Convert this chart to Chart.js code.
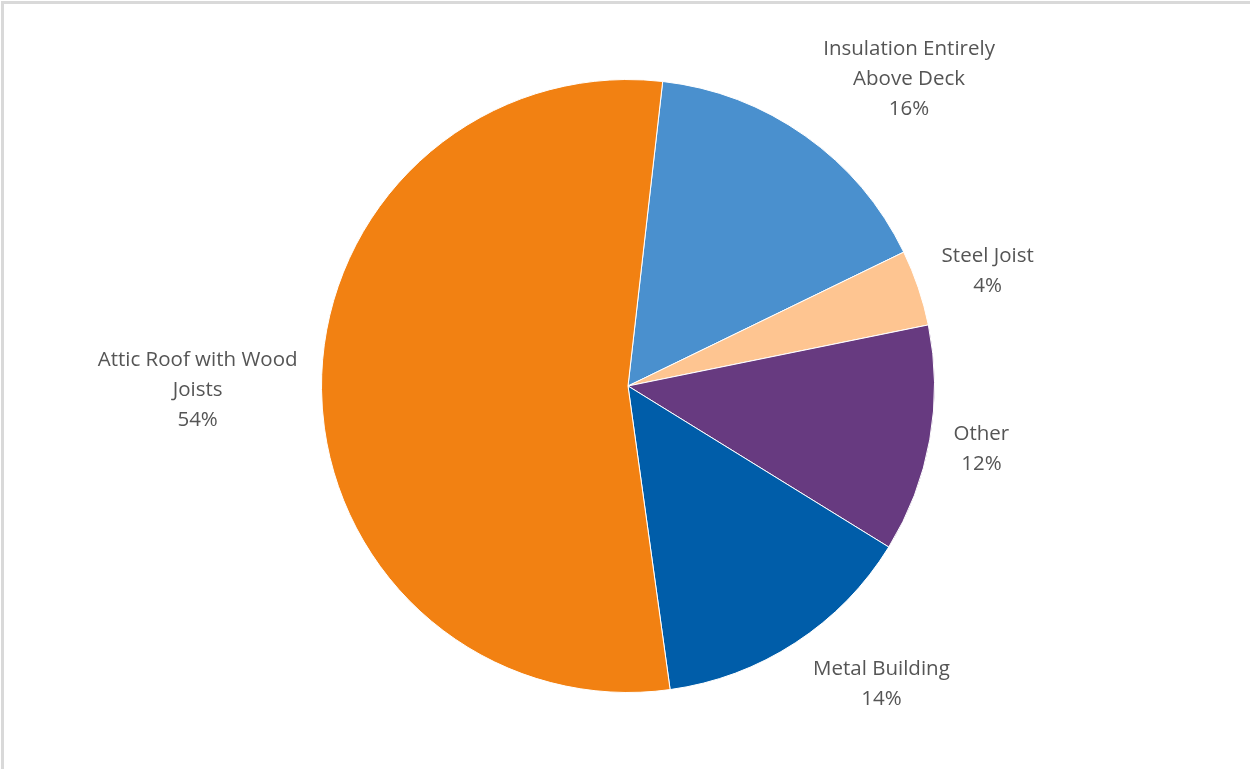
<!DOCTYPE html>
<html>
<head>
<meta charset="utf-8">
<title>Roof construction types</title>
<script src="https://cdn.jsdelivr.net/npm/chart.js@4"></script>
<style>
    html, body { margin: 0; padding: 0; background: #fff; }
    #wrap { position: relative; width: 1250px; height: 769px; }
    #frame {
        position: absolute; left: 1px; top: 1px; right: 0; bottom: 0;
        border-top: 3px solid #d9d9d9; border-left: 3px solid #d9d9d9;
        pointer-events: none;
    }
</style>
</head>
<body>
<div id="wrap">
    <canvas id="roofChart" width="1250" height="769"></canvas>
    <div id="frame"></div>
</div>
<script>
// roof types, clockwise from the top
const categories = [
    ['Insulation Entirely', 'Above Deck'],
    ['Steel Joist'],
    ['Other'],
    ['Metal Building'],
    ['Attic Roof with Wood', 'Joists']
];
const shares = [16, 4, 12, 14, 54];
const sliceColors = ['#4A90CE', '#FEC591', '#673A80', '#005DA9', '#F28112'];

const LABEL_FONT = '20.5px "Segoe UI", "Open Sans", sans-serif';
const LINE_H = 30;

// draws "name / xx%" outside each slice, pushed away from the pie edge
const outsideLabels = {
    id: 'outsideLabels',
    afterDatasetsDraw(chart) {
        const c = chart.ctx;
        const meta = chart.getDatasetMeta(0);
        const total = shares.reduce((a, b) => a + b, 0);
        c.save();
        c.font = LABEL_FONT;
        c.fillStyle = '#555555';
        c.textAlign = 'center';
        c.textBaseline = 'middle';
        meta.data.forEach((arc, i) => {
            const p = arc.getProps(['x', 'y', 'startAngle', 'endAngle', 'outerRadius'], true);
            const mid = (p.startAngle + p.endAngle) / 2;
            const cos = Math.cos(mid), sin = Math.sin(mid);
            const ax = p.x + (p.outerRadius + 14) * cos;
            const ay = p.y + (p.outerRadius + 14) * sin;
            const lines = categories[i].concat([Math.round(shares[i] / total * 100) + '%']);
            const w = Math.max(...lines.map(l => c.measureText(l).width));
            const h = lines.length * LINE_H;
            const kx = Math.max(-1, Math.min(1, cos * 2));
            const ky = Math.max(-1, Math.min(1, sin * 1.3));
            const cx = ax + kx * w / 2 + Math.sign(cos) * 10;
            const cy = ay + ky * h / 2;
            lines.forEach((l, j) => {
                c.fillText(l, cx, cy - h / 2 + LINE_H * (j + 0.5));
            });
        });
        c.restore();
    }
};

new Chart(document.getElementById('roofChart').getContext('2d'), {
    type: 'pie',
    data: {
        labels: categories,
        datasets: [{
            data: shares,
            backgroundColor: sliceColors,
            borderColor: '#ffffff',
            borderWidth: 1
        }]
    },
    options: {
        responsive: false,
        animation: false,
        rotation: 6.5,
        layout: { padding: { left: 321, right: 315, top: 79, bottom: 76 } },
        plugins: {
            legend: { display: false },
            tooltip: { enabled: false }
        }
    },
    plugins: [outsideLabels]
});
</script>
</body>
</html>
